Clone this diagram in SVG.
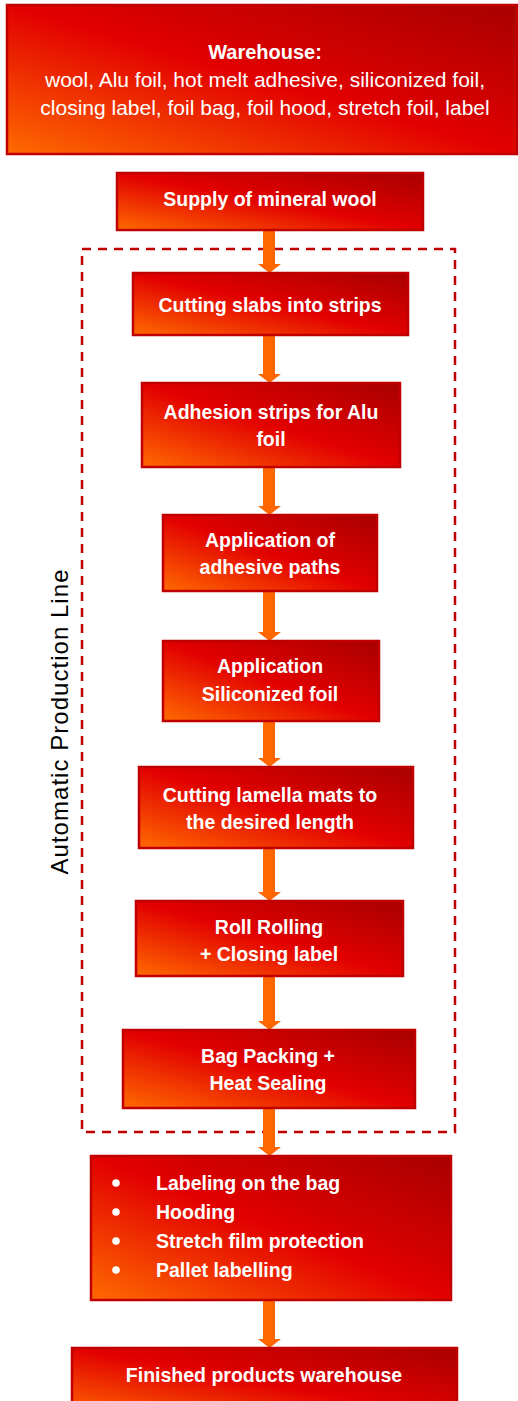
<svg xmlns="http://www.w3.org/2000/svg" width="518" height="1401" viewBox="0 0 518 1401">
  <defs>
    <linearGradient id="g" x1="0" y1="1" x2="1" y2="0">
      <stop offset="0" stop-color="#FF6A00"/>
      <stop offset="0.5" stop-color="#E20000"/>
      <stop offset="1" stop-color="#A80000"/>
    </linearGradient>
  </defs>
  <style>
    .box { fill: url(#g); stroke: #C00000; stroke-width: 2.5; }
    .t { font-family: "Liberation Sans", Arial, sans-serif; fill: #FFFFFF; font-size: 19.5px; font-weight: bold; text-anchor: middle; }
    .tr { font-family: "Liberation Sans", Arial, sans-serif; fill: #FFFFFF; font-size: 21px; text-anchor: middle; }
    .tl { font-family: "Liberation Sans", Arial, sans-serif; fill: #FFFFFF; font-size: 19.5px; font-weight: bold; }
    .conn { stroke: #FF6600; stroke-width: 12; fill: none; }
    .head { fill: #FF6600; }
    .frame { fill: none; stroke: #C00000; stroke-width: 2.5; stroke-dasharray: 9 7; }
    .vlabel { font-family: "Liberation Sans", Arial, sans-serif; fill: #000000; font-size: 24px; text-anchor: middle; }
  </style>

  <g id="production-line-frame">
    <rect class="frame" x="82" y="249" width="373" height="883"/>
    <text class="vlabel" transform="translate(68,722) rotate(-90)" textLength="305">Automatic Production Line</text>
  </g>

  <g id="connectors">
    <line class="conn" x1="269" y1="230" x2="269" y2="265"/>
    <polygon class="head" points="258,264 281,264 269.5,273"/>
    <line class="conn" x1="269" y1="335" x2="269" y2="375"/>
    <polygon class="head" points="258,374 281,374 269.5,383"/>
    <line class="conn" x1="269" y1="467" x2="269" y2="507"/>
    <polygon class="head" points="258,506 281,506 269.5,515"/>
    <line class="conn" x1="269" y1="591" x2="269" y2="633"/>
    <polygon class="head" points="258,632 281,632 269.5,641"/>
    <line class="conn" x1="269" y1="721" x2="269" y2="759"/>
    <polygon class="head" points="258,758 281,758 269.5,767"/>
    <line class="conn" x1="269" y1="848" x2="269" y2="893"/>
    <polygon class="head" points="258,892 281,892 269.5,901"/>
    <line class="conn" x1="269" y1="976" x2="269" y2="1022"/>
    <polygon class="head" points="258,1021 281,1021 269.5,1030"/>
    <line class="conn" x1="269" y1="1108" x2="269" y2="1148"/>
    <polygon class="head" points="258,1147 281,1147 269.5,1156"/>
    <line class="conn" x1="269" y1="1300" x2="269" y2="1340"/>
    <polygon class="head" points="258,1339 281,1339 269.5,1348"/>
  </g>

  <g id="warehouse">
    <rect class="box" x="7" y="5" width="510" height="149"/>
    <text class="t" x="265" y="59" style="font-size:20px">Warehouse:</text>
    <text class="tr" x="265" y="87">wool, Alu foil, hot melt adhesive, siliconized foil,</text>
    <text class="tr" x="265" y="115">closing label, foil bag, foil hood, stretch foil, label</text>
  </g>

  <g id="supply">
    <rect class="box" x="117" y="173" width="306" height="57"/>
    <text class="t" x="270" y="206">Supply of mineral wool</text>
  </g>

  <g id="cutting-slabs">
    <rect class="box" x="133" y="273" width="275" height="62"/>
    <text class="t" x="270" y="312">Cutting slabs into strips</text>
  </g>

  <g id="adhesion-strips">
    <rect class="box" x="142" y="383" width="258" height="84"/>
    <text class="t" x="271" y="419">Adhesion strips for Alu</text>
    <text class="t" x="271" y="446">foil</text>
  </g>

  <g id="adhesive-paths">
    <rect class="box" x="163" y="515" width="214" height="76"/>
    <text class="t" x="270" y="547">Application of</text>
    <text class="t" x="270" y="574">adhesive paths</text>
  </g>

  <g id="siliconized-foil">
    <rect class="box" x="163" y="641" width="216" height="80"/>
    <text class="t" x="270" y="673">Application</text>
    <text class="t" x="270" y="701">Siliconized foil</text>
  </g>

  <g id="cutting-lamella">
    <rect class="box" x="139" y="767" width="274" height="81"/>
    <text class="t" x="270" y="802">Cutting lamella mats to</text>
    <text class="t" x="270" y="829">the desired length</text>
  </g>

  <g id="roll-rolling">
    <rect class="box" x="136" y="901" width="267" height="75"/>
    <text class="t" x="269" y="934">Roll Rolling</text>
    <text class="t" x="269" y="961">+ Closing label</text>
  </g>

  <g id="bag-packing">
    <rect class="box" x="123" y="1030" width="292" height="78"/>
    <text class="t" x="268" y="1063">Bag Packing +</text>
    <text class="t" x="268" y="1090">Heat Sealing</text>
  </g>

  <g id="finishing">
    <rect class="box" x="91" y="1156" width="360" height="144"/>
    <circle cx="116" cy="1183" r="3.8" fill="#FFFFFF"/>
    <circle cx="116" cy="1212" r="3.8" fill="#FFFFFF"/>
    <circle cx="116" cy="1241" r="3.8" fill="#FFFFFF"/>
    <circle cx="116" cy="1270" r="3.8" fill="#FFFFFF"/>
    <text class="tl" x="156" y="1190">Labeling on the bag</text>
    <text class="tl" x="156" y="1219">Hooding</text>
    <text class="tl" x="156" y="1248">Stretch film protection</text>
    <text class="tl" x="156" y="1277">Pallet labelling</text>
  </g>

  <g id="finished-warehouse">
    <rect class="box" x="72" y="1348" width="385" height="70"/>
    <text class="t" x="264" y="1382">Finished products warehouse</text>
  </g>
</svg>
